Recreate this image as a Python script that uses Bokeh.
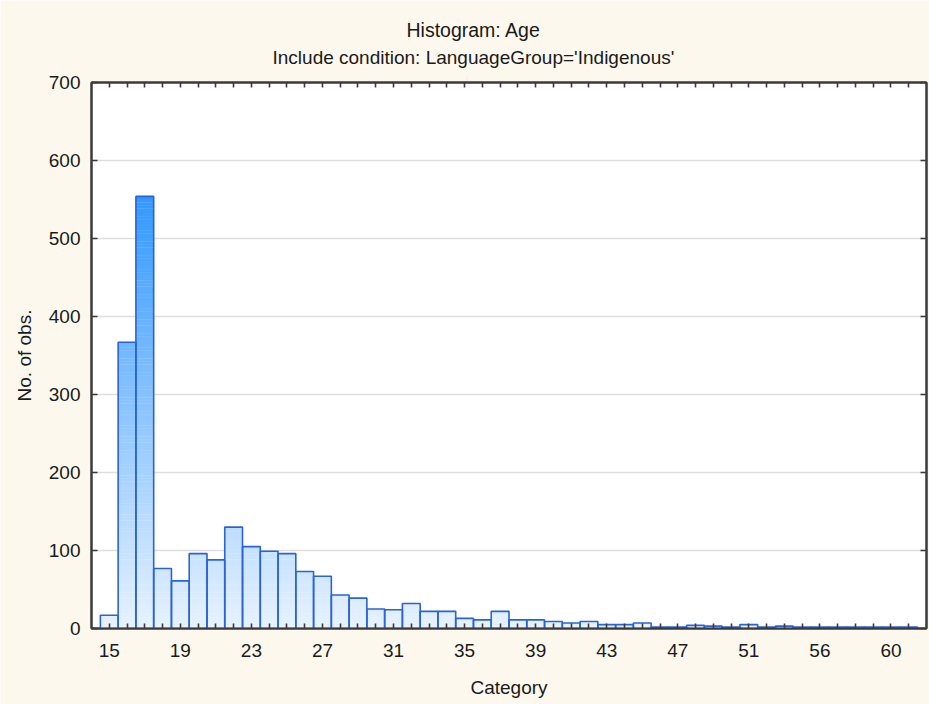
import numpy as np
from bokeh.plotting import figure
from bokeh.models import Range1d, FixedTicker, LinearAxis, Title, ColumnDataSource, Grid
from bokeh.embed import file_html
from bokeh.resources import INLINE

# ---------------- data ----------------
ages = [15, 16, 17, 18, 19, 20, 21, 22, 23, 24, 25, 26, 27, 28, 29, 30,
        31, 32, 33, 34, 35, 36, 37, 38, 39, 40, 41, 42, 43, 44, 45, 46,
        47, 48, 49, 50, 51, 52, 53, 54, 56, 57, 58, 59, 60, 61]
counts = [17, 367, 554, 77, 61, 96, 88, 130, 105, 99, 96, 73, 67, 43, 39, 25,
          24, 32, 22, 22, 13, 11, 22, 11, 11, 9, 7, 9, 5, 5, 7, 2,
          2, 4, 3, 2, 5, 2, 3, 2, 2, 2, 2, 2, 2, 2]
tick_labels = ["15", "19", "23", "27", "31", "35", "39", "43", "47", "51", "56", "60"]
y_ticks = [0, 100, 200, 300, 400, 500, 600, 700]

title_text = "Histogram: Age"
subtitle_text = "Include condition: LanguageGroup='Indigenous'"
x_label = "Category"
y_label = "No. of obs."

# ---------------- style ----------------
FONT = "Liberation Sans"
TXT = "#1a1a1a"
BG = "#fdf8ee"
EDGE = "#2a63d6"
FRAME = "#3a3a3a"

n = len(ages)
idx = np.arange(n)
age_to_idx = {str(a): i for i, a in enumerate(ages)}
overrides = {int(i): "" for i in idx}
for lab in tick_labels:
    overrides[age_to_idx[lab]] = lab

p = figure(width=929, height=704, x_range=Range1d(-1, n),
           y_range=Range1d(y_ticks[0], y_ticks[-1]),
           output_backend="svg", toolbar_location=None,
           min_border_left=91, min_border_right=3, min_border_top=82,
           min_border_bottom=76,
           background_fill_color="white", border_fill_color=BG,
           x_axis_type=None, y_axis_type=None)
p.outline_line_color = FRAME
p.outline_line_width = 2
p.xgrid.visible = False
p.ygrid.visible = False
p.add_layout(Grid(dimension=1, ticker=FixedTicker(ticks=y_ticks),
                  grid_line_color="#dedede", grid_line_width=1.6))

# gradient bars built from horizontal slices of each bar
vmax = max(counts)
c0 = np.array([231, 242, 255])
c1 = np.array([51, 152, 255])
step = 2.0
L, R, B, T, C = [], [], [], [], []
for i, c in enumerate(counts):
    y0 = 0.0
    while y0 < c:
        y1 = min(c, y0 + step)
        frac = ((y0 + y1) / 2) / vmax
        col = c0 + (c1 - c0) * frac
        L.append(i - 0.5); R.append(i + 0.5)
        B.append(y0); T.append(min(c, y1 + 0.6))
        C.append("#%02x%02x%02x" % tuple(int(round(v)) for v in col))
        y0 = y1
p.quad(left=L, right=R, bottom=B, top=T, fill_color=C, line_color=None)

src = ColumnDataSource(dict(l=idx - 0.5, r=idx + 0.5, t=counts, b=[0] * n))
p.quad(left="l", right="r", top="t", bottom="b", source=src,
       fill_color=None, line_color=EDGE, line_width=1.6)


def style_axis(ax, labels=True, tick_len=5):
    ax.axis_line_color = FRAME
    ax.axis_line_width = 2
    ax.major_tick_line_color = FRAME
    ax.major_tick_line_width = 1.6
    ax.major_tick_in = tick_len
    ax.major_tick_out = 0
    ax.minor_tick_line_color = None
    ax.major_label_text_font = FONT
    ax.major_label_text_color = TXT
    ax.major_label_text_font_size = "19px" if labels else "0px"
    ax.axis_label_text_font = FONT
    ax.axis_label_text_font_size = "19px"
    ax.axis_label_text_font_style = "normal"
    ax.axis_label_text_color = TXT
    if not labels:
        ax.major_label_standoff = 0


xt = FixedTicker(ticks=list(idx))
yt = FixedTicker(ticks=y_ticks)

bx = LinearAxis(ticker=xt, major_label_overrides=overrides, axis_label=x_label)
style_axis(bx, True, 5)
bx.major_label_standoff = 15
bx.axis_label_standoff = 17
p.add_layout(bx, "below")

# top frame ticks; an invisible axis label provides the gap under the subtitle
tx = LinearAxis(ticker=xt, major_label_overrides={int(i): "" for i in idx},
                axis_label=".")
style_axis(tx, False, 5)
tx.axis_label_text_font_size = "2px"
tx.axis_label_text_alpha = 0
tx.axis_label_standoff = 11
p.add_layout(tx, "above")

ly = LinearAxis(ticker=yt, axis_label=y_label)
style_axis(ly, True, 6)
ly.major_label_standoff = 11
ly.axis_label_standoff = 11
p.add_layout(ly, "left")

ry = LinearAxis(ticker=yt, major_label_overrides={v: "" for v in y_ticks})
style_axis(ry, False, 6)
p.add_layout(ry, "right")

# titles (first added sits nearest the frame)
p.add_layout(Title(text=subtitle_text, align="left", offset=181, standoff=0,
                   text_font=FONT, text_font_size="19px", text_font_style="normal",
                   text_color=TXT), "above")
p.add_layout(Title(text=title_text, align="left", offset=315, standoff=8,
                   text_font=FONT, text_font_size="19.5px", text_font_style="normal",
                   text_color=TXT), "above")

open("out.html", "w").write(file_html(p, INLINE))
